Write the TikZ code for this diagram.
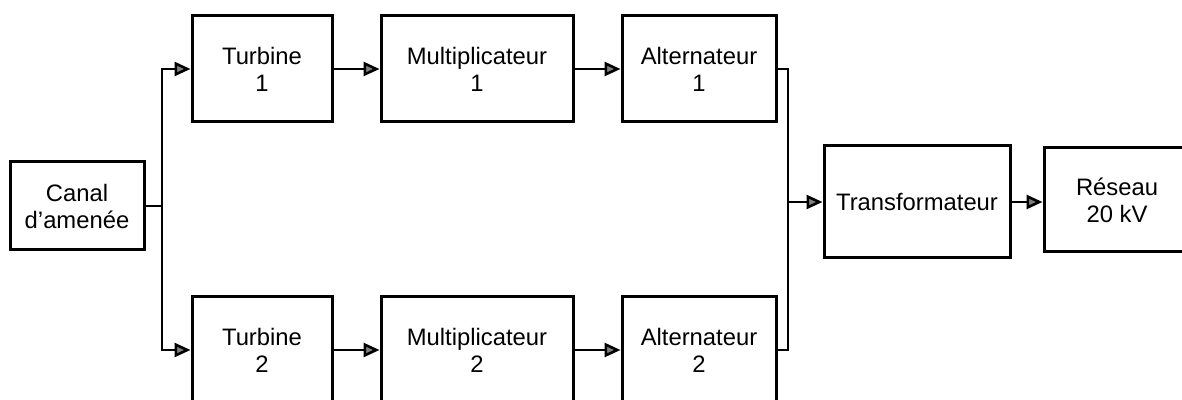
\documentclass[tikz,border=0pt]{standalone}
\usepackage{fontspec}
\setmainfont{Liberation Sans}
\usetikzlibrary{arrows.meta}

\begin{document}
\begin{tikzpicture}[x=0.5pt, y=-0.5pt,
        bloc/.style={draw, line width=1.5pt, align=center, inner sep=0pt, minimum height=53pt,
            font=\fontsize{11.9}{13.5}\selectfont},
        fleche/.style={line width=1.3pt, -{Triangle[length=8pt, width=7pt, fill=gray]}}]
        \useasboundingbox (0,0) rectangle (1182,400);

        \node[bloc, minimum width=67pt, minimum height=44pt] (canal) at (77,206) {Canal\\d'amenée};

        \node[bloc, minimum width=70pt] (turb1) at (262,69) {Turbine\\1};
        \node[bloc, minimum width=96pt] (mult1) at (477,69) {Multiplicateur\\1};
        \node[bloc, minimum width=77pt] (alt1) at (699,69) {Alternateur\\1};

        \node[bloc, minimum width=70pt] (turb2) at (262,350) {Turbine\\2};
        \node[bloc, minimum width=96pt] (mult2) at (477,350) {Multiplicateur\\2};
        \node[bloc, minimum width=77pt] (alt2) at (699,350) {Alternateur\\2};

        \node[bloc, minimum width=93pt, minimum height=56pt] (transfo) at (917,202) {Transformateur};
        \node[bloc, minimum width=73pt, minimum height=52pt] (reseau) at (1117,200) {Réseau\\20 kV};

        \coordinate (split) at (162,206);
        \coordinate (bus) at (788,202);

        \draw[line width=1.3pt] (canal.east) -- (split);
        \draw[fleche] (split) |- (turb1.west);
        \draw[fleche] (split) |- (turb2.west);

        \draw[fleche] (turb1) -- (mult1);
        \draw[fleche] (mult1) -- (alt1);
        \draw[fleche] (turb2) -- (mult2);
        \draw[fleche] (mult2) -- (alt2);

        \draw[line width=1.3pt] (alt1.east) -| (bus);
        \draw[line width=1.3pt] (alt2.east) -| (bus);
        \draw[fleche] (bus) -- (transfo.west);
        \draw[fleche] (transfo.east) -- (transfo.east -| reseau.west);
    \end{tikzpicture}
\end{document}
